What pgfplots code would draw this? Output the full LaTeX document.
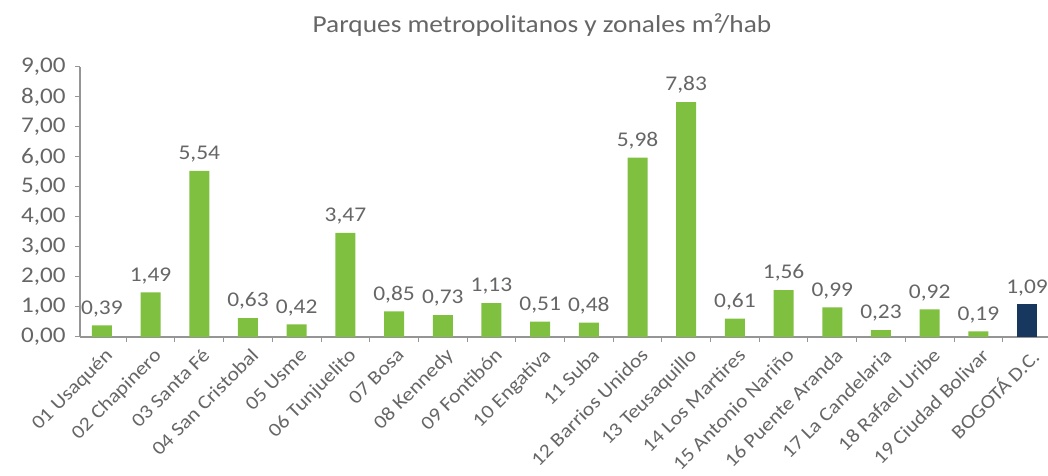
\documentclass[border=0pt]{standalone}
\usepackage{pgfplots}
\pgfplotsset{compat=1.18}
\usepackage{fontspec}
\setmainfont[FakeStretch=1.12]{Carlito}
\definecolor{barg}{HTML}{80C040}
\definecolor{navy}{HTML}{17375E}
\definecolor{txt}{HTML}{666666}
\definecolor{axl}{HTML}{959595}
\begin{document}
\begin{tikzpicture}
\begin{axis}[
  name=ax,
  scale only axis,
  width=968bp, height=270bp,
  xmin=-0.45, xmax=19.43,
  ymin=0, ymax=9,
  axis x line=bottom, axis y line=left,
  axis line style={-, draw=axl, line width=1.2pt},
  ytick={0,1,...,9},
  xtick={0,...,19},
  xticklabels={01 Usaquén,02 Chapinero,03 Santa Fé,04 San Cristobal,05 Usme,06 Tunjuelito,07 Bosa,08 Kennedy,09 Fontibón,10 Engativa,11 Suba,12 Barrios Unidos,13 Teusaquillo,14 Los Martires,15 Antonio Nariño,16 Puente Aranda,17 La Candelaria,18 Rafael Uribe,19 Ciudad Bolivar,BOGOTÁ D.C.},
  minor xtick={0.5,1.5,...,18.5},
  major x tick style={draw=none},
  minor x tick style={draw=axl, line width=1pt},
  y tick style={draw=axl, line width=1pt},
  tick align=outside,
  minor tick length=5bp, major tick length=5bp,
  x tick label style={rotate=45, anchor=north east, font=\fontsize{19.5}{22}\selectfont, text=txt, xshift=-1bp, yshift=-4bp, inner sep=1bp},
  y tick label style={font=\fontsize{22.5}{24}\selectfont, text=txt, xshift=-6bp},
  /pgf/number format/assume math mode=true,
  yticklabel style={/pgf/number format/.cd, fixed, fixed zerofill, precision=2, use comma},
  title={Parques metropolitanos y zonales m²/hab},
  title style={font=\fontsize{24.5}{28}\selectfont, text=txt, at={(0.5,1)}, anchor=south, yshift=21bp, xshift=-22bp},
  nodes near coords,
  every node near coord/.append style={font=\fontsize{21}{22}\selectfont, text=txt, yshift=5bp, /pgf/number format/.cd, fixed, fixed zerofill, precision=2, use comma, assume math mode=true},
  clip=false,
]
\addplot[ybar, bar width=20bp, fill=barg, draw=none] coordinates {
(0,0.39) (1,1.49) (2,5.54) (3,0.63) (4,0.42) (5,3.47) (6,0.85) (7,0.73) (8,1.13) (9,0.51)
(10,0.48) (11,5.98) (12,7.83) (13,0.61) (14,1.56) (15,0.99) (16,0.23) (17,0.92) (18,0.19)
};
\addplot[ybar, bar width=20bp, fill=navy, draw=none] coordinates {(19,1.09)};
\end{axis}
\pgfresetboundingbox
\path ([xshift=-80bp,yshift=-139bp]ax.south west) rectangle ([yshift=67bp]ax.north east);
\end{tikzpicture}
\end{document}
